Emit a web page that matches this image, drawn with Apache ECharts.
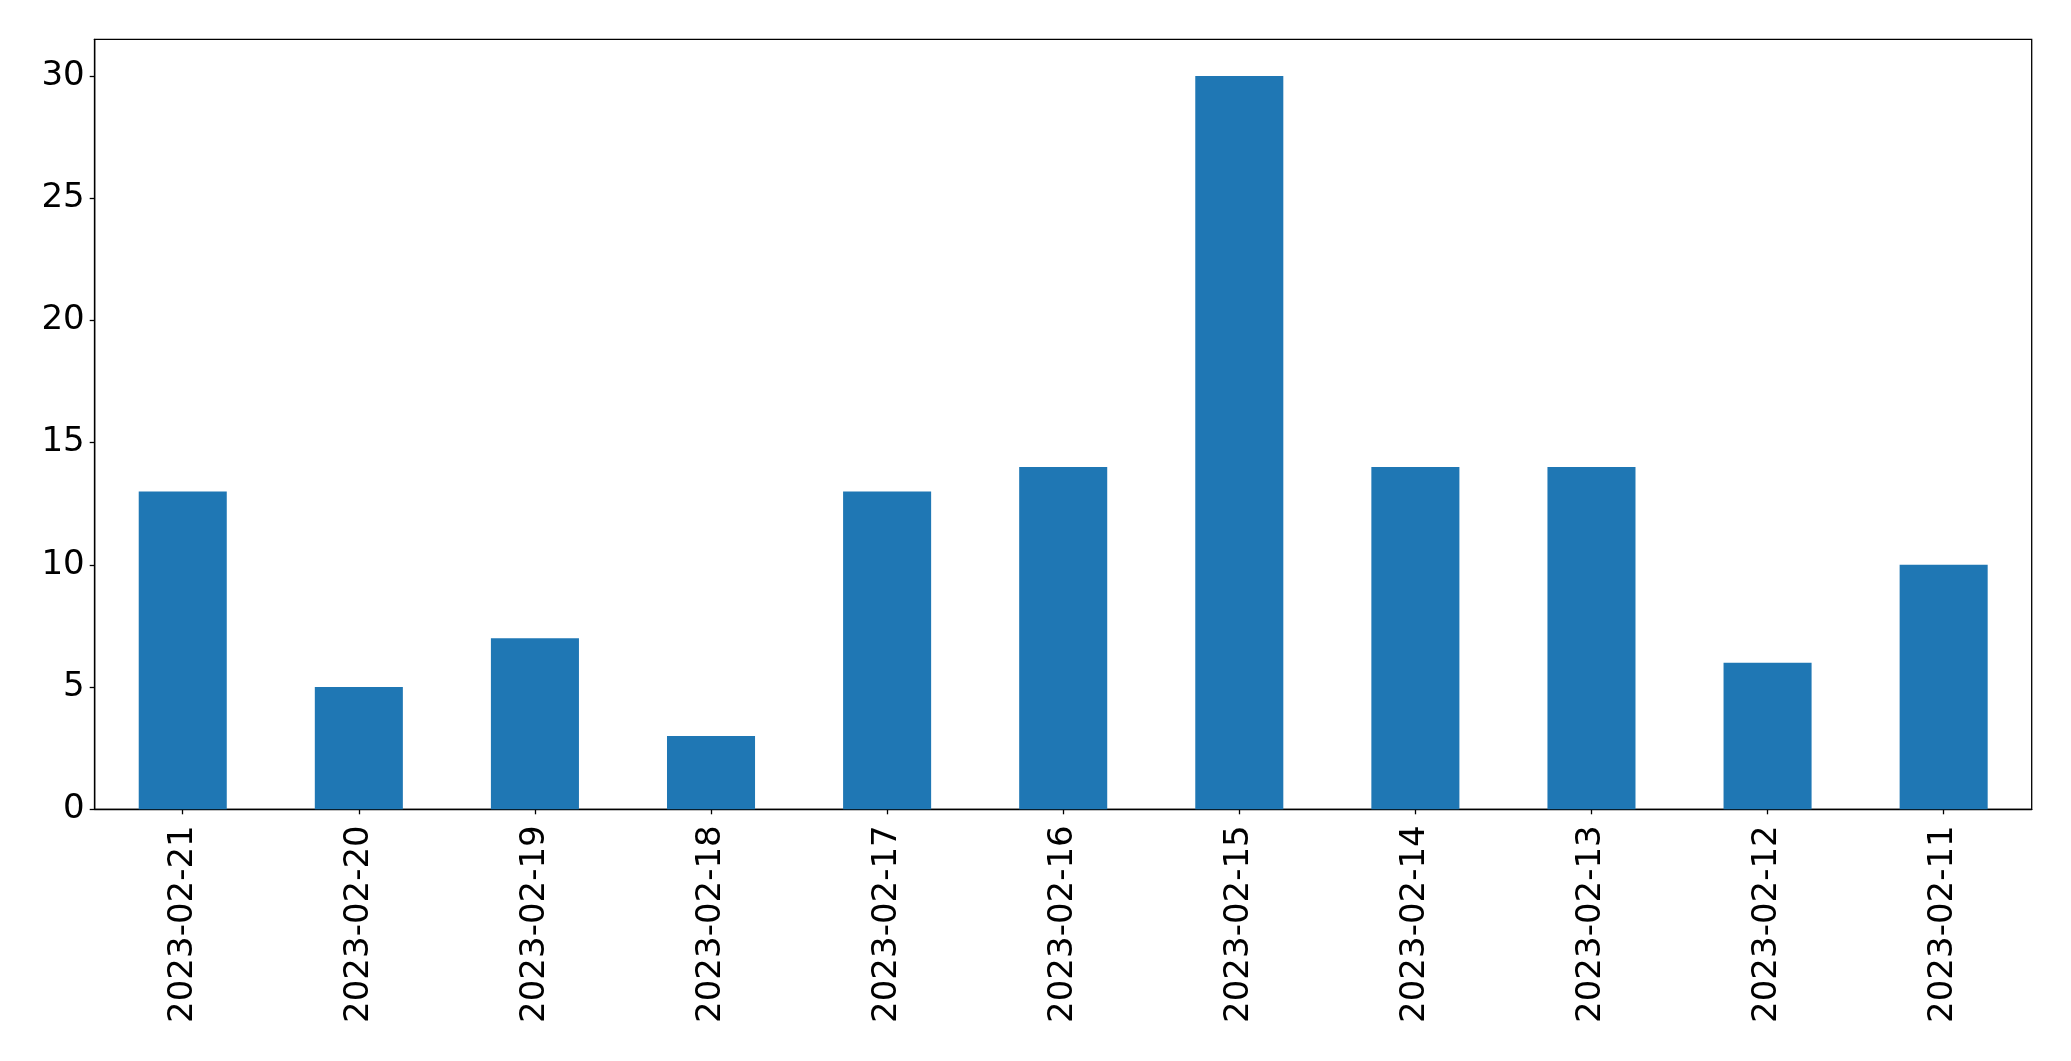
<!DOCTYPE html>
<html>
<head>
<meta charset="utf-8">
<script src="https://cdn.jsdelivr.net/npm/echarts@6/dist/echarts.min.js"></script>
<style>
html,body{margin:0;padding:0;background:#fff;}
#chart{width:2071px;height:1061px;}
</style>
</head>
<body>
<div id="chart"></div>
<script>
const categories = ["2023-02-21","2023-02-20","2023-02-19","2023-02-18","2023-02-17","2023-02-16","2023-02-15","2023-02-14","2023-02-13","2023-02-12","2023-02-11"];
const values = [13, 5, 7, 3, 13, 14, 30, 14, 14, 6, 10];
const yTicks = [0, 5, 10, 15, 20, 25, 30];

const chart = echarts.init(document.getElementById('chart'), null, {renderer: 'canvas'});
const font = "DejaVu Sans";
chart.setOption({
  animation: false,
  backgroundColor: '#ffffff',
  grid: {
    left: 94.7, right: 39.3, top: 39.3, bottom: 251.7,
    show: true, borderColor: '#000000', borderWidth: 1.3, backgroundColor: 'transparent'
  },
  xAxis: {
    type: 'category',
    data: categories,
    axisLine: {show: true, lineStyle: {color: '#000', width: 1.3}},
    axisTick: {show: true, alignWithLabel: true, length: 5, lineStyle: {color: '#000', width: 1.3}},
    axisLabel: {rotate: 90, margin: 16, fontSize: 34, color: '#000', fontFamily: font, interval: 0},
    splitLine: {show: false}
  },
  yAxis: {
    type: 'value',
    min: 0, max: 31.5, interval: 5,
    axisLine: {show: true, lineStyle: {color: '#000', width: 1.3}},
    axisTick: {show: true, length: 5, lineStyle: {color: '#000', width: 1.3}},
    axisLabel: {
      margin: 10, fontSize: 34, color: '#000', fontFamily: font,
      showMaxLabel: false,
      formatter: function (v) { return yTicks.indexOf(v) >= 0 ? String(v) : ''; }
    },
    splitLine: {show: false}
  },
  series: [{
    type: 'bar',
    data: values,
    barWidth: '50%',
    itemStyle: {color: '#1f77b4'}
  }]
});
</script>
</body>
</html>
